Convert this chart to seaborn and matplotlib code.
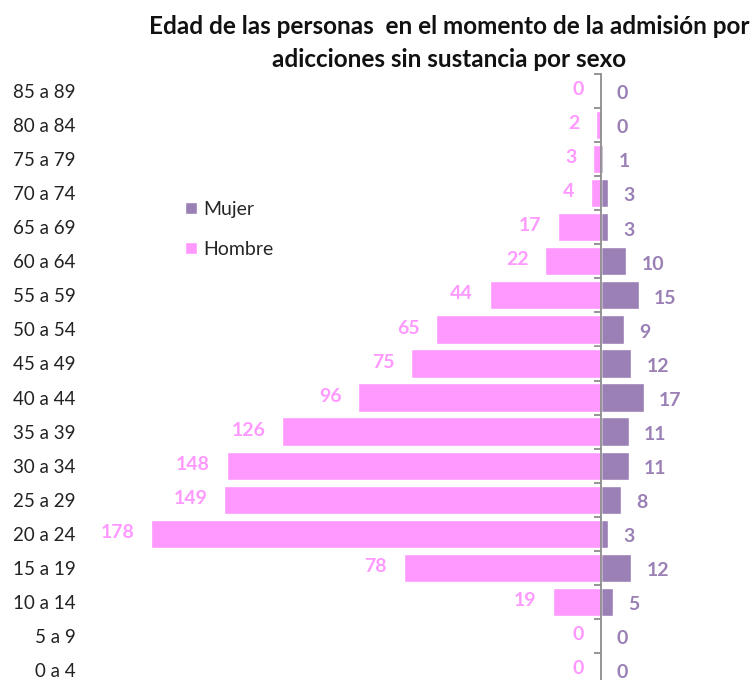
import numpy as np
import matplotlib
matplotlib.use("Agg")
import matplotlib.pyplot as plt
import pandas as pd
import seaborn as sns

# datos
edades = ["85 a 89", "80 a 84", "75 a 79", "70 a 74", "65 a 69", "60 a 64",
          "55 a 59", "50 a 54", "45 a 49", "40 a 44", "35 a 39", "30 a 34",
          "25 a 29", "20 a 24", "15 a 19", "10 a 14", "5 a 9", "0 a 4"]
hombre = [0, 2, 3, 4, 17, 22, 44, 65, 75, 96, 126, 148, 149, 178, 78, 19, 0, 0]
mujer = [0, 0, 1, 3, 3, 10, 15, 9, 12, 17, 11, 11, 8, 3, 12, 5, 0, 0]

col_h = "#FF99FF"
col_m = "#9A80B5"

df = pd.DataFrame({
    "edad": edades * 2,
    "valor": [-v for v in hombre] + mujer,
    "sexo": ["Hombre"] * len(edades) + ["Mujer"] * len(edades),
})

sns.set_style("white")
plt.rcParams["font.family"] = ["Lato", "DejaVu Sans"]

fig = plt.figure(figsize=(7.55, 6.8), dpi=100)
ax = fig.add_axes([85 / 755, -7 / 680, 670 / 755, 613 / 680])

sns.barplot(data=df, x="valor", y="edad", hue="sexo", order=edades,
            hue_order=["Mujer", "Hombre"], palette={"Mujer": col_m, "Hombre": col_h},
            dodge=False, orient="h", width=0.83, saturation=1, ax=ax)

ax.set_xlim(-204, 61)
ax.set_xlabel("")
ax.set_ylabel("")
ax.set_xticks([])

for s in ["top", "right", "bottom"]:
    ax.spines[s].set_visible(False)
ax.spines["left"].set_position(("data", 0))
ax.spines["left"].set_color("#8c8c8c")
ax.spines["left"].set_linewidth(1.3)
ax.tick_params(axis="y", which="major", left=True, length=0, pad=378, labelsize=13.5,
               labelcolor="#222222")
ax.set_yticks(np.arange(-0.5, len(edades), 1), minor=True)
ax.tick_params(axis="y", which="minor", left=True, length=5, width=1.3, color="#8c8c8c",
               direction="out")

# etiquetas de valores
for cont, sexo in zip(ax.containers, ["Mujer", "Hombre"]):
    for p in cont:
        y = p.get_y() + p.get_height() / 2
        w = p.get_width()
        if sexo == "Hombre":
            x = min(p.get_x(), p.get_x() + w)
            ax.annotate(f"{abs(w):.0f}", (x, y), xytext=(-12, 1), textcoords="offset points",
                        ha="right", va="center", color=col_h, fontsize=14, fontweight="bold")
        else:
            x = max(p.get_x(), p.get_x() + w)
            ax.annotate(f"{abs(w):.0f}", (x, y), xytext=(11, -2), textcoords="offset points",
                        ha="left", va="center", color=col_m, fontsize=14, fontweight="bold")

leg = ax.legend(loc="upper left", bbox_to_anchor=(0.123, 0.822), frameon=False,
                fontsize=14, labelspacing=1.2, handlelength=0.6, handleheight=0.6,
                handletextpad=0.35)

fig.text(0.595, 0.937, "Edad de las personas  en el momento de la admisión por\nadicciones sin sustancia por sexo",
         ha="center", va="center", fontsize=17.5, fontweight="bold", linespacing=1.5,
         color="#111111")

fig.savefig("out.png", dpi=100)
